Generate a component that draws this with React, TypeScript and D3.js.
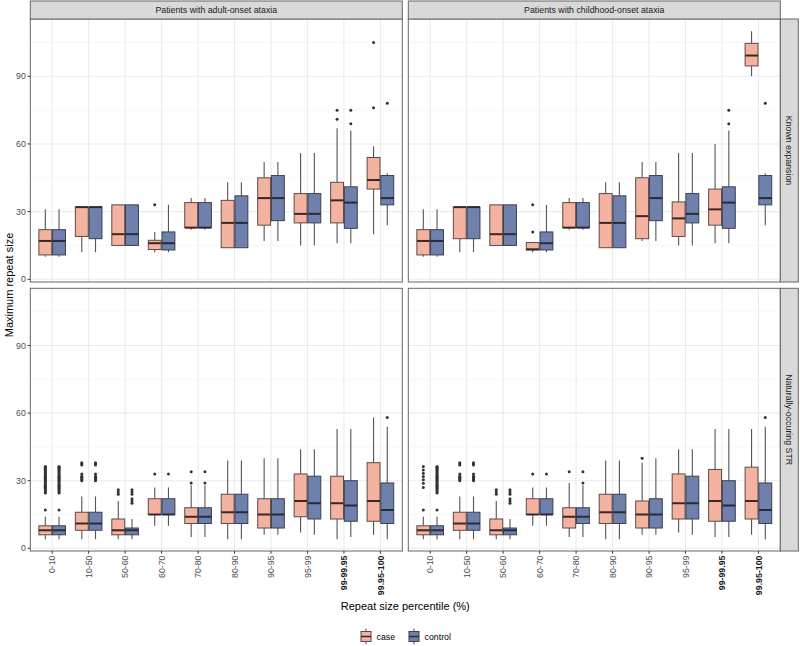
import React from "react";
import * as d3 from "d3";

const categories = ["0-10", "10-50", "50-60", "60-70", "70-80", "80-90", "90-95", "95-99", "99-99.95", "99.95-100"];
const boldCategories = ["99-99.95", "99.95-100"];
const groups = ["case", "control"];
const colLabels = ["Patients with adult-onset ataxia", "Patients with childhood-onset ataxia"];
const rowLabels = ["Known expansion", "Naturally-occuring STR"];
const yTicks = [0, 30, 60, 90];
const yMinorTicks = [15, 45, 75, 105];

// [lower whisker, q1, median, q3, upper whisker]
const knownAdultCase = [
  [10, 10.8, 17, 22, 31], [12, 19, 32, 32, 32], [15, 15, 20, 33, 33], [12, 13.2, 16, 17.3, 21], [22, 22.9, 22.9, 34, 36],
  [14, 14, 25, 35, 43], [17, 24, 36, 45, 52], [15, 25, 29, 38, 56], [16, 25, 35, 43, 67], [20, 40, 44, 54, 59],
];
const knownAdultControl = [
  [10, 10.8, 17, 22, 31], [12, 18, 32, 32, 32], [15, 15, 20, 33, 33], [12, 13, 16, 21, 33], [22, 22.9, 22.9, 34, 36],
  [14, 14, 25, 37, 43], [17, 26, 36, 46, 52], [15, 25, 29, 38, 56], [16, 22.6, 34, 41, 66], [24, 33, 36, 46, 47],
];
const knownAdultCaseOut = [[], [], [], [33], [], [], [], [], [71, 75], [76, 105]];
const knownAdultControlOut = [[], [], [], [], [], [], [], [], [69, 75], [78]];

const knownChildCase = [
  [10, 10.8, 17, 22, 31], [12, 18, 32, 32, 32], [15, 15, 20, 33, 33], [12, 13, 13.3, 16.3, 16.3], [22, 22.9, 22.9, 34, 36],
  [14, 14, 25, 38, 43], [17, 18, 28, 45, 52], [15, 19, 27, 34.3, 56], [16, 24, 31, 40, 60], [90, 94.6, 99.2, 104.6, 110],
];
const knownChildControl = [
  [10, 10.8, 17, 22, 31], [12, 18, 32, 32, 32], [15, 15, 20, 33, 33], [12, 13, 16, 21, 33], [22, 22.9, 22.9, 34, 36],
  [14, 14, 25, 37, 43], [17, 26, 36, 46, 52], [15, 25, 29, 38, 56], [16, 22.6, 34, 41, 66], [24, 33, 36, 46, 47],
];
const knownChildCaseOut = [[], [], [], [21, 33], [], [], [], [], [], []];
const knownChildControlOut = [[], [], [], [], [], [], [], [], [69, 75], [78]];

const strAdultCase = [
  [4, 6, 8, 10, 14], [4, 8, 11, 16, 23], [4, 6, 8, 13, 21], [10, 15, 15, 22, 27], [5, 11, 14, 18, 28],
  [4, 11, 16, 24, 39], [6, 9, 15, 22, 40], [7, 14, 21, 33, 44], [4, 13, 20, 32, 53], [6, 12, 21, 38, 58],
];
const strAdultControl = [
  [4, 6, 8, 10, 14], [4, 8, 11, 16, 23], [4, 6, 8, 9, 13], [10, 15, 15, 22, 27], [5, 11, 14, 18, 28],
  [4, 11, 16, 24, 39], [6, 9, 15, 22, 40], [6, 13, 20, 32, 44], [5, 12, 19, 30, 53], [4, 11, 17, 29, 54],
];
const denseLow = [17, 24.5, 25, 25.5, 26, 26.5, 27, 27.5, 28, 28.5, 29, 29.5, 30, 30.5, 31, 31.5, 32, 32.5, 33, 33.5, 34, 34.5, 35, 35.5, 36, 36.3];
const strAdultCaseOut = [
  denseLow, [30, 30.5, 31, 31.5, 32, 33, 37, 37.5, 38], [24, 25, 26], [33], [29, 34],
  [], [], [], [], [],
];
const strAdultControlOut = [
  denseLow, [30, 30.5, 31, 31.5, 32, 33, 37, 37.5, 38], [20, 21, 22, 24, 25, 26], [33], [29, 34],
  [], [], [], [], [58],
];

const strChildCase = [
  [4, 6, 8, 10, 14], [4, 8, 11, 16, 23], [4, 6, 8, 13, 21], [10, 15, 15, 22, 27], [5, 9, 14, 18, 29],
  [4, 11, 16, 24, 39], [6, 9, 15, 21, 38], [7, 13, 20, 33, 44], [5, 12, 21, 35, 53], [6, 13, 21, 36, 53],
];
const strChildControl = [
  [4, 6, 8, 10, 14], [4, 8, 11, 16, 23], [4, 6, 8, 9, 13], [10, 15, 15, 22, 27], [5, 11, 14, 18, 28],
  [4, 11, 16, 24, 39], [6, 9, 15, 22, 40], [6, 13, 20, 32, 44], [5, 12, 19, 30, 53], [4, 11, 17, 29, 54],
];
const strChildCaseOut = [
  [17, 27, 28.9, 30.4, 31.9, 33.3, 34.8, 36.3], [30, 30.5, 31, 31.5, 32, 33, 37, 37.5, 38], [24, 25, 26], [33], [34],
  [], [40], [], [], [],
];
const strChildControlOut = [
  denseLow, [30, 30.5, 31, 31.5, 32, 33, 37, 37.5, 38], [20, 21, 22, 24, 25, 26], [33], [29, 34],
  [], [], [], [], [58],
];

const FONT = "'Liberation Sans', Arial, Helvetica, sans-serif";
const fills: Record<string, string> = { case: "#F4B3A1", control: "#6F80AC" };
const strokes: Record<string, string> = { case: "#5c4a45", control: "#3a4050" };
const medians: Record<string, string> = { case: "#3a2826", control: "#262b38" };

const colX = [[30.3, 402.3], [408.3, 780.3]];
const rowY = [[19, 282], [288.3, 551]];
const stripTop = [1, 19];
const stripRight = [780.3, 798.3];

const facets = [
  { r: 0, c: 0, stats: { case: knownAdultCase, control: knownAdultControl }, outs: { case: knownAdultCaseOut, control: knownAdultControlOut } },
  { r: 0, c: 1, stats: { case: knownChildCase, control: knownChildControl }, outs: { case: knownChildCaseOut, control: knownChildControlOut } },
  { r: 1, c: 0, stats: { case: strAdultCase, control: strAdultControl }, outs: { case: strAdultCaseOut, control: strAdultControlOut } },
  { r: 1, c: 1, stats: { case: strChildCase, control: strChildControl }, outs: { case: strChildCaseOut, control: strChildControlOut } },
];

function Panel({ f }: { f: any }) {
  const [x0, x1] = colX[f.c];
  const [y0, y1] = rowY[f.r];
  const x = d3.scaleBand<string>().domain(categories).range([x0, x1]).paddingInner(0).paddingOuter(0.1);
  const step = x.bandwidth();
  const g = d3.scaleBand<string>().domain(groups).range([-0.365 * step, 0.365 * step]).paddingInner(0.06);
  const y = d3.scaleLinear().domain([-1.2, 115.4]).range([y1, y0]);
  const bw = g.bandwidth();
  return (
    <g>
      <rect x={x0} y={y0} width={x1 - x0} height={y1 - y0} fill="#fff" />
      {yMinorTicks.map((t) => (
        <line key={"mn" + t} x1={x0} x2={x1} y1={y(t)} y2={y(t)} stroke="#F4F4F4" strokeWidth={0.6} />
      ))}
      {yTicks.map((t) => (
        <line key={"mj" + t} x1={x0} x2={x1} y1={y(t)} y2={y(t)} stroke="#EBEBEB" strokeWidth={1.1} />
      ))}
      {categories.map((cat) => {
        const cx = (x(cat) as number) + step / 2;
        return <line key={"vg" + cat} x1={cx} x2={cx} y1={y0} y2={y1} stroke="#EBEBEB" strokeWidth={1.1} />;
      })}
      {categories.map((cat, i) => {
        const cx = (x(cat) as number) + step / 2;
        return groups.map((grp) => {
          const s = f.stats[grp][i];
          const left = cx + (g(grp) as number);
          const mid = left + bw / 2;
          const outs: number[] = f.outs[grp][i];
          return (
            <g key={cat + grp}>
              <line x1={mid} x2={mid} y1={y(s[3])} y2={y(s[4])} stroke="#555" strokeWidth={1.1} />
              <line x1={mid} x2={mid} y1={y(s[1])} y2={y(s[0])} stroke="#555" strokeWidth={1.1} />
              <rect x={left} y={y(s[3])} width={bw} height={Math.max(0.5, y(s[1]) - y(s[3]))} fill={fills[grp]} stroke={strokes[grp]} strokeWidth={1} />
              <line x1={left} x2={left + bw} y1={y(s[2])} y2={y(s[2])} stroke={medians[grp]} strokeWidth={2} />
              {outs.map((o, k) => (
                <circle key={k} cx={mid} cy={y(o)} r={1.5} fill="#333" />
              ))}
            </g>
          );
        });
      })}
      <rect x={x0} y={y0} width={x1 - x0} height={y1 - y0} fill="none" stroke="#666" strokeWidth={1} />
      {f.c === 0 &&
        yTicks.map((t) => (
          <g key={"yt" + t}>
            <line x1={x0 - 2.7} x2={x0} y1={y(t)} y2={y(t)} stroke="#333" strokeWidth={1} />
            <text x={x0 - 4.5} y={y(t)} dy="0.35em" textAnchor="end" fontSize={8.8} fill="#4D4D4D" fontFamily={FONT}>
              {t}
            </text>
          </g>
        ))}
      {f.r === 1 &&
        categories.map((cat) => {
          const cx = (x(cat) as number) + step / 2;
          const bold = boldCategories.includes(cat);
          return (
            <g key={"xt" + cat}>
              <line x1={cx} x2={cx} y1={y1} y2={y1 + 2.7} stroke="#333" strokeWidth={1} />
              <text
                transform={`translate(${cx + 3.2},${y1 + 4.5}) rotate(-90)`}
                textAnchor="end"
                fontSize={8.8}
                fill={bold ? "#1a1a1a" : "#4D4D4D"}
                fontWeight={bold ? "bold" : "normal"}
                fontFamily={FONT}
              >
                {cat}
              </text>
            </g>
          );
        })}
    </g>
  );
}

function LegendKey({ x, yc, grp }: { x: number; yc: number; grp: string }) {
  return (
    <g>
      <line x1={x + 5} x2={x + 5} y1={yc - 8} y2={yc + 8} stroke="#555" strokeWidth={1} />
      <rect x={x} y={yc - 5} width={10} height={10} fill={fills[grp]} stroke={strokes[grp]} strokeWidth={1} />
      <line x1={x} x2={x + 10} y1={yc} y2={yc} stroke={medians[grp]} strokeWidth={1.5} />
    </g>
  );
}

export default function App() {
  return (
    <svg width={800} height={646} style={{ display: "block", position: "absolute", left: 0, top: 0 }} fontFamily={FONT}>
      <rect x={0} y={0} width={800} height={646} fill="#fff" />
      {facets.map((f, i) => (
        <Panel key={i} f={f} />
      ))}
      {colLabels.map((lab, c) => (
        <g key={lab}>
          <rect x={colX[c][0]} y={stripTop[0]} width={colX[c][1] - colX[c][0]} height={stripTop[1] - stripTop[0]} fill="#D9D9D9" stroke="#666" strokeWidth={1} />
          <text x={(colX[c][0] + colX[c][1]) / 2} y={(stripTop[0] + stripTop[1]) / 2} dy="0.35em" textAnchor="middle" fontSize={8.8} fill="#1A1A1A">
            {lab}
          </text>
        </g>
      ))}
      {rowLabels.map((lab, r) => (
        <g key={lab}>
          <rect x={stripRight[0]} y={rowY[r][0]} width={stripRight[1] - stripRight[0]} height={rowY[r][1] - rowY[r][0]} fill="#D9D9D9" stroke="#666" strokeWidth={1} />
          <text
            transform={`translate(${(stripRight[0] + stripRight[1]) / 2},${(rowY[r][0] + rowY[r][1]) / 2}) rotate(90)`}
            dy="0.35em"
            textAnchor="middle"
            fontSize={8.8}
            fill="#1A1A1A"
          >
            {lab}
          </text>
        </g>
      ))}
      <text transform={`translate(9.5,${(rowY[0][0] + rowY[1][1]) / 2}) rotate(-90)`} dy="0.35em" textAnchor="middle" fontSize={11} fill="#000">
        Maximum repeat size
      </text>
      <text x={(colX[0][0] + colX[1][1]) / 2} y={606} dy="0.35em" textAnchor="middle" fontSize={11} fill="#000">
        Repeat size percentile (%)
      </text>
      <LegendKey x={361} yc={636.5} grp="case" />
      <text x={376.5} y={636.5} dy="0.35em" fontSize={8.8} fill="#000">case</text>
      <LegendKey x={409} yc={636.5} grp="control" />
      <text x={424.5} y={636.5} dy="0.35em" fontSize={8.8} fill="#000">control</text>
    </svg>
  );
}
